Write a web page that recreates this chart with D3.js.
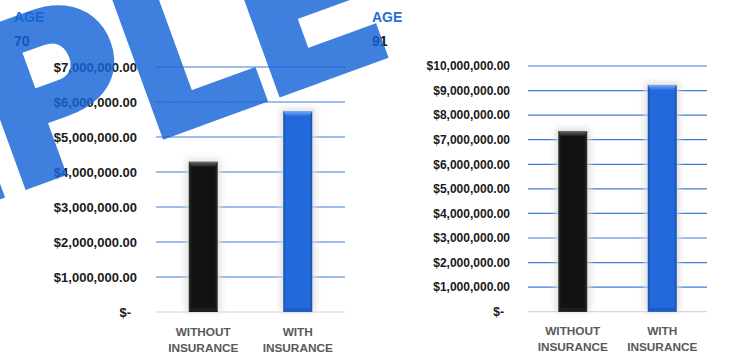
<!DOCTYPE html>
<html>
<head>
<meta charset="utf-8">
<script src="https://cdn.jsdelivr.net/npm/d3@7"></script>
<style>
  html, body { margin: 0; padding: 0; background: #fff; }
  svg { display: block; }
</style>
</head>
<body>
<svg id="chart" width="740" height="359"></svg>
<script>
// data
var categories = [["WITHOUT", "INSURANCE"], ["WITH", "INSURANCE"]];
var ages = [70, 91];
var valuesAge70 = [4290000, 5740000];
var valuesAge91 = [7350000, 9230000];
var ticksAge70 = [0, 1000000, 2000000, 3000000, 4000000, 5000000, 6000000, 7000000];
var ticksAge91 = [0, 1000000, 2000000, 3000000, 4000000, 5000000, 6000000, 7000000, 8000000, 9000000, 10000000];
var watermark = "SAMPLE";

var svg = d3.select("#chart");
var defs = svg.append("defs");
var fmt = d3.format("$,.2f");

// bar looks
var looks = [
  { id: "blk", edge: "#333", body: "#121212", top1: "#6a6a6a", top2: "#1c1c1c", bottom: "#1e1e1e" },
  { id: "blu", edge: "#1a4ea6", body: "#2469dc", top1: "#7aabf4", top2: "#2a6fdf", bottom: "#1e5cc4" }
];
looks.forEach(function (l) {
  var g = defs.append("linearGradient").attr("id", "side-" + l.id);
  g.append("stop").attr("offset", "0").attr("stop-color", l.edge);
  g.append("stop").attr("offset", "0.1").attr("stop-color", l.body);
  g.append("stop").attr("offset", "0.9").attr("stop-color", l.body);
  g.append("stop").attr("offset", "1").attr("stop-color", l.edge);
  var t = defs.append("linearGradient").attr("id", "top-" + l.id)
    .attr("x1", 0).attr("y1", 0).attr("x2", 0).attr("y2", 1);
  t.append("stop").attr("offset", "0").attr("stop-color", l.top1);
  t.append("stop").attr("offset", "1").attr("stop-color", l.top2);
});
defs.append("filter").attr("id", "glow")
  .attr("x", "-50%").attr("y", "-20%").attr("width", "200%").attr("height", "140%")
  .append("feGaussianBlur").attr("stdDeviation", 3);

function drawChart(cfg) {
  var g = svg.append("g");
  var y = d3.scaleLinear().domain([0, cfg.max]).range([cfg.bottom, cfg.top]);
  var x = d3.scalePoint().domain(d3.range(cfg.values.length)).range([cfg.left, cfg.right]).padding(0.5);

  // title
  g.append("text").attr("x", cfg.titleX).attr("y", 21.5)
    .attr("font-family", "Liberation Sans, Arial, sans-serif").attr("font-weight", "bold")
    .attr("font-size", 14).attr("fill", "#2a6bd6").text("AGE");
  g.append("text").attr("x", cfg.titleX).attr("y", 45.5)
    .attr("font-family", "Liberation Sans, Arial, sans-serif").attr("font-weight", "bold")
    .attr("font-size", 14).attr("fill", "#111").text(cfg.age);

  // gridlines
  g.selectAll(".grid").data(cfg.ticks.filter(function (d) { return d > 0; }))
    .enter().append("line")
    .attr("x1", cfg.left).attr("x2", cfg.right)
    .attr("y1", function (d) { return y(d); }).attr("y2", function (d) { return y(d); })
    .attr("stroke", "#3b7bdb").attr("stroke-width", 1.2);
  g.append("line").attr("x1", cfg.left).attr("x2", cfg.right)
    .attr("y1", y(0)).attr("y2", y(0)).attr("stroke", "#d6d6d6").attr("stroke-width", 1.2);

  // y axis labels
  var yAxis = d3.axisLeft(y).tickValues(cfg.ticks).tickSize(0)
    .tickFormat(function (d) { return d === 0 ? "$-" : fmt(d); });
  var ax = g.append("g").attr("transform", "translate(" + cfg.labelX + ",0)").call(yAxis);
  ax.select(".domain").remove();
  ax.selectAll("text")
    .attr("font-family", "Liberation Sans, Arial, sans-serif").attr("font-weight", "bold")
    .attr("font-size", cfg.labelSize).attr("fill", "#1a1a1a").attr("x", function (d) { return d === 0 ? -6 : 0; });

  // bars
  var bw = 29;
  var bars = g.selectAll(".bar").data(cfg.values).enter().append("g");
  bars.append("rect")
    .attr("x", function (d, i) { return x(i) - bw / 2 - 3; })
    .attr("y", function (d) { return y(d) - 3; })
    .attr("width", bw + 6).attr("height", function (d) { return y(0) - y(d) + 3; })
    .attr("fill", "#dcdcdc").attr("opacity", 0.85).attr("filter", "url(#glow)");
  bars.append("rect")
    .attr("x", function (d, i) { return x(i) - bw / 2; })
    .attr("y", function (d) { return y(d); })
    .attr("width", bw).attr("height", function (d) { return y(0) - y(d); })
    .attr("fill", function (d, i) { return "url(#side-" + looks[i].id + ")"; });
  // top bevel
  bars.append("path")
    .attr("d", function (d, i) {
      var x0 = x(i) - bw / 2, x1 = x0 + bw, t = y(d), h = 5;
      return "M" + x0 + "," + t + "L" + x1 + "," + t + "L" + (x1 - 3) + "," + (t + h) + "L" + (x0 + 3) + "," + (t + h) + "Z";
    })
    .attr("fill", function (d, i) { return "url(#top-" + looks[i].id + ")"; });
  // bottom bevel
  bars.append("path")
    .attr("d", function (d, i) {
      var x0 = x(i) - bw / 2, x1 = x0 + bw, b = y(0), h = 4;
      return "M" + x0 + "," + b + "L" + x1 + "," + b + "L" + (x1 - 3) + "," + (b - h) + "L" + (x0 + 3) + "," + (b - h) + "Z";
    })
    .attr("fill", function (d, i) { return looks[i].bottom; });

  // category labels
  var cats = g.selectAll(".cat").data(categories).enter().append("text")
    .attr("text-anchor", "middle")
    .attr("font-family", "Liberation Sans, Arial, sans-serif").attr("font-weight", "bold")
    .attr("font-size", 11.8).attr("fill", "#595959");
  cats.each(function (lines, i) {
    d3.select(this).selectAll("tspan").data(lines).enter().append("tspan")
      .attr("x", x(i)).attr("y", function (d, j) { return cfg.catY + j * 16.5; })
      .text(function (d) { return d; });
  });
}

drawChart({ age: ages[0], values: valuesAge70, ticks: ticksAge70, max: 7000000,
  left: 156, right: 345, top: 67, bottom: 312, labelX: 137, labelSize: 13, titleX: 14, catY: 335.5 });
drawChart({ age: ages[1], values: valuesAge91, ticks: ticksAge91, max: 10000000,
  left: 528, right: 707, top: 66, bottom: 311.7, labelX: 510, labelSize: 12, titleX: 372, catY: 334.8 });

// big rotated watermark on top, thickened with a stroke
var wmG = svg.append("g").attr("opacity", 0.82);
var wm = wmG.append("text")
  .attr("font-family", "Roboto, Liberation Sans, sans-serif").attr("font-weight", "bold")
  .attr("font-size", 218).attr("letter-spacing", 6).attr("fill", "#1565d8")
  .attr("stroke", "#1565d8").attr("stroke-width", 12).attr("stroke-linejoin", "miter")
  .text(watermark);
var lStart = wm.node().getStartPositionOfChar(4).x + 14;
var ang = -20 * Math.PI / 180;
var tx = 167 - lStart * Math.cos(ang), ty = 132 - lStart * Math.sin(ang);
wm.attr("transform", "translate(" + tx + "," + ty + ") rotate(-20)");
</script>
</body>
</html>
